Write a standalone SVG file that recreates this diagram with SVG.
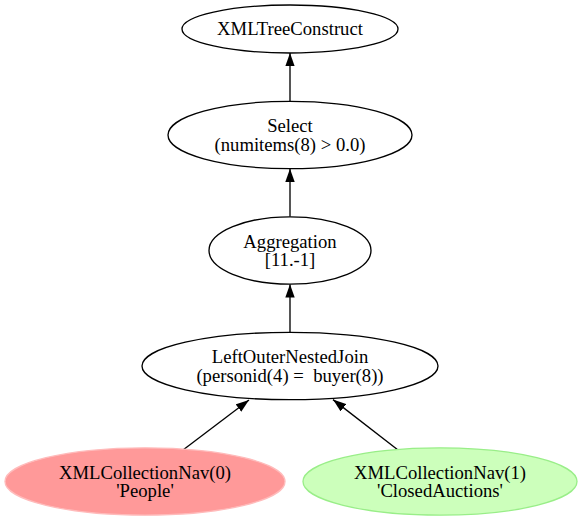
<svg xmlns="http://www.w3.org/2000/svg" width="582" height="522" viewBox="0 0 582 522">
<style>
.n{fill:#fff;stroke:#000;stroke-width:1.33}
.e{stroke:#000;stroke-width:1.33;fill:none}
</style>
<defs>
<marker id="a" viewBox="0 0 13.3 9.4" refX="13.3" refY="4.7" markerWidth="13.3" markerHeight="9.4" markerUnits="userSpaceOnUse" orient="auto">
<path d="M0,0L13.3,4.7L0,9.4z" fill="#000"/>
</marker>
</defs>
<rect width="582" height="522" fill="#fff"/>
<g id="edges">
<path class="e" d="M290,101V53" marker-end="url(#a)"/>
<path class="e" d="M290,216.7V168.7" marker-end="url(#a)"/>
<path class="e" d="M290,332.3V284.2" marker-end="url(#a)"/>
<path class="e" d="M183,450L249,400" marker-end="url(#a)"/>
<path class="e" d="M398,450L333,399.6" marker-end="url(#a)"/>
</g>
<g font-family="Liberation Serif" font-size="18.67" text-anchor="middle" fill="#000">
<g id="xmltree">
<ellipse class="n" cx="290" cy="29" rx="108" ry="24"/>
<text x="290" y="34.5">XMLTreeConstruct</text>
</g>
<g id="select">
<ellipse class="n" cx="290" cy="135" rx="122" ry="33.7"/>
<text x="290" y="132">Select</text>
<text x="290" y="150.7">(numitems(8) &gt; 0.0)</text>
</g>
<g id="aggregation">
<ellipse class="n" cx="290" cy="250.5" rx="81" ry="33.7"/>
<text x="290" y="247.5">Aggregation</text>
<text x="290" y="266.2">[11.-1]</text>
</g>
<g id="join">
<ellipse class="n" cx="290" cy="366" rx="148" ry="33.7"/>
<text x="290" y="363">LeftOuterNestedJoin</text>
<text x="290" y="381.7" xml:space="preserve">(personid(4) =  buyer(8))</text>
</g>
<g id="nav0">
<ellipse cx="145" cy="481.5" rx="140" ry="33.7" fill="#ff9999" stroke="#ffbbbb" stroke-width="1.33"/>
<text x="145" y="478.5">XMLCollectionNav(0)</text>
<text x="145" y="497.2">'People'</text>
</g>
<g id="nav1">
<ellipse cx="440" cy="481.5" rx="137" ry="33.7" fill="#ccffbb" stroke="#99ee88" stroke-width="1.33"/>
<text x="440" y="478.5">XMLCollectionNav(1)</text>
<text x="440" y="497.2">'ClosedAuctions'</text>
</g>
</g>
</svg>
